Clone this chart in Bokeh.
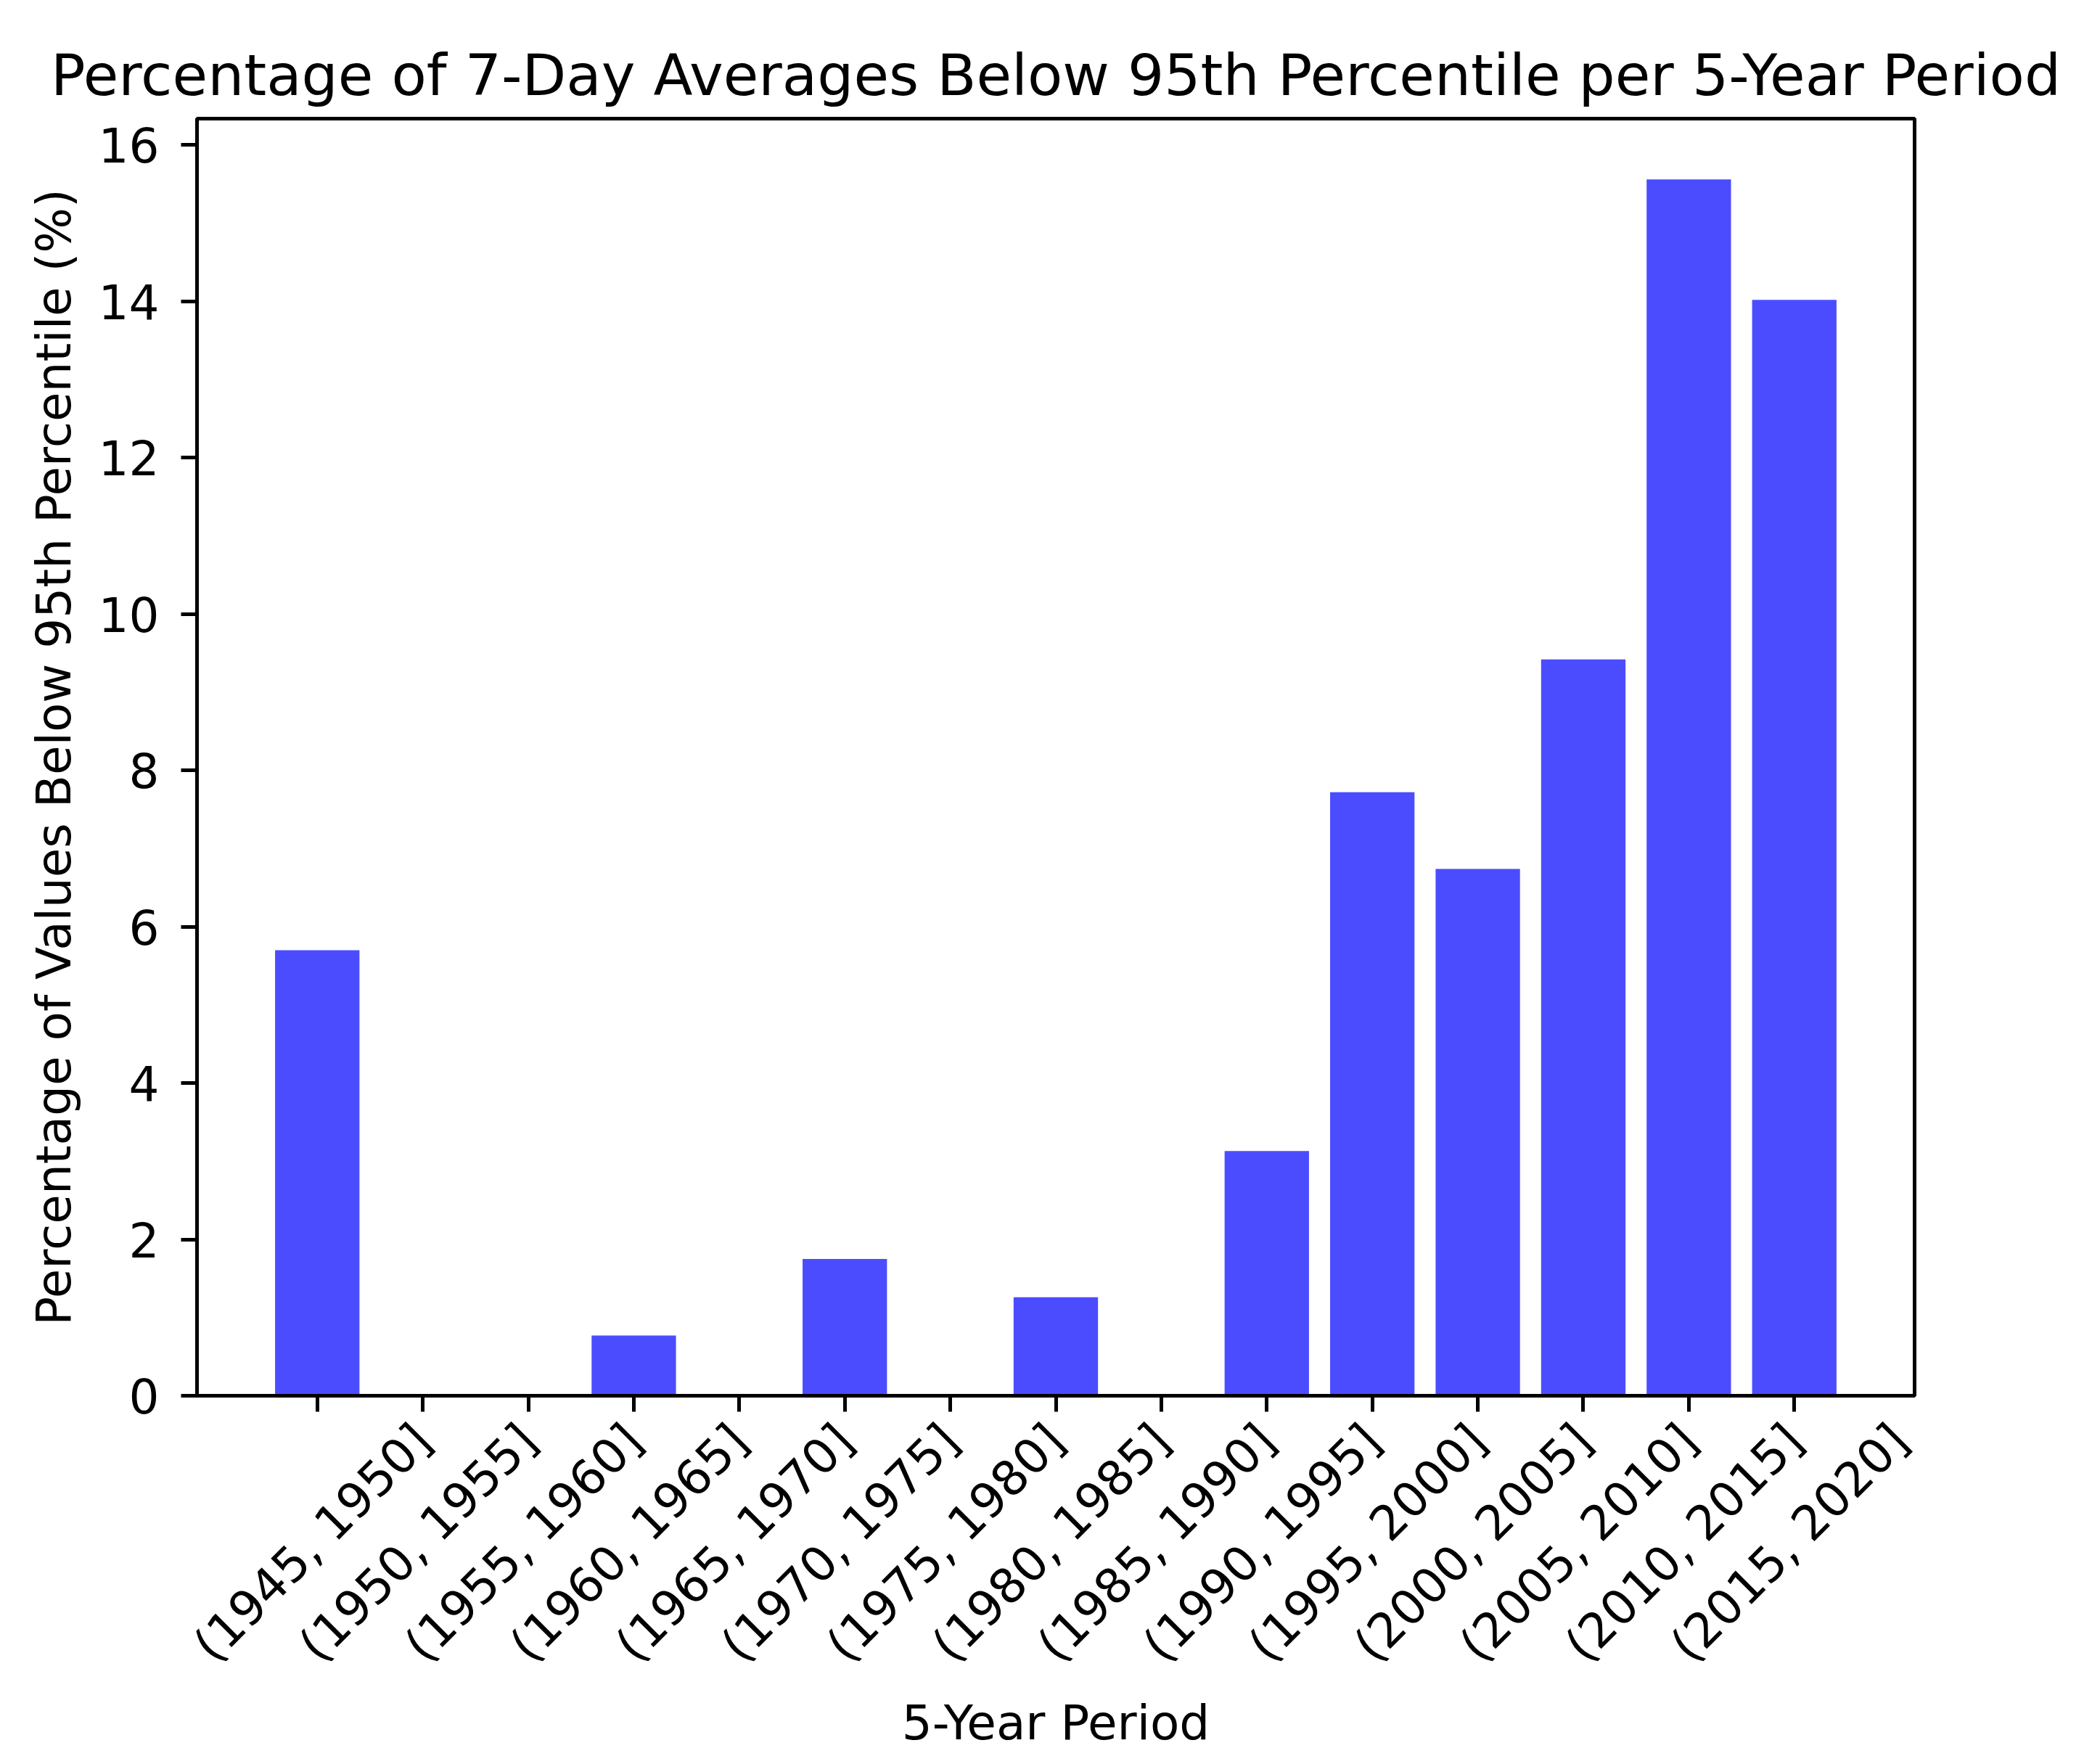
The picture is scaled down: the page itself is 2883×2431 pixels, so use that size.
from math import pi
from bokeh.plotting import figure
from bokeh.models import ColumnDataSource, FixedTicker, LinearAxis, Range1d
from bokeh.embed import file_html
from bokeh.resources import INLINE

periods = ["(1945, 1950]", "(1950, 1955]", "(1955, 1960]", "(1960, 1965]", "(1965, 1970]",
           "(1970, 1975]", "(1975, 1980]", "(1980, 1985]", "(1985, 1990]", "(1990, 1995]",
           "(1995, 2000]", "(2000, 2005]", "(2005, 2010]", "(2010, 2015]", "(2015, 2020]"]
values = [5.70, 0.0, 0.0, 0.77, 0.0, 1.75, 0.0, 1.26, 0.0, 3.13, 7.72, 6.74, 9.42, 15.56, 14.02]
y_ticks = [0, 2, 4, 6, 8, 10, 12, 14, 16]

positions = list(range(len(periods)))
FONT = "DejaVu Sans"
TICK_FS = "66px"
TITLE_FS = "79px"
LW = 5

src = ColumnDataSource(dict(x=positions, top=values))

x0, x1 = -1.14, len(periods) - 1 + 1.14
label_shift = 1.0  # rotated labels centred on their tick (matplotlib-style)

p = figure(width=2867, height=2415, output_backend="svg", toolbar_location=None,
           x_range=Range1d(x0, x1), y_range=Range1d(0, max(values) * 1.05),
           title="Percentage of 7-Day Averages Below 95th Percentile per 5-Year Period")
p.extra_x_ranges = {"lbl": Range1d(x0 - label_shift, x1 - label_shift)}

p.vbar(x="x", top="top", width=0.8, source=src, fill_color="blue", fill_alpha=0.7, line_color=None)

p.min_border_left = 271
p.min_border_right = 229
p.min_border_top = 163
p.min_border_bottom = 488

p.xgrid.visible = False
p.ygrid.visible = False
p.outline_line_color = "black"
p.outline_line_width = LW
p.outline_line_alpha = 1.0
p.background_fill_color = "white"
p.border_fill_color = "white"

p.title.text_font = FONT
p.title.text_font_size = TITLE_FS
p.title.text_font_style = "normal"
p.title.align = "center"
p.title.text_color = "black"
p.title.standoff = 27


def style_axis(ax):
    ax.axis_line_width = LW
    ax.major_tick_line_width = LW
    ax.major_tick_out = 22
    ax.major_tick_in = 0
    ax.minor_tick_out = 0
    ax.minor_tick_in = 0
    ax.major_label_text_font = FONT
    ax.major_label_text_font_size = TICK_FS
    ax.major_label_text_color = "black"
    ax.axis_label_text_font = FONT
    ax.axis_label_text_font_size = TICK_FS
    ax.axis_label_text_font_style = "normal"
    ax.axis_label_text_color = "black"


style_axis(p.yaxis[0])
p.yaxis[0].ticker = FixedTicker(ticks=y_ticks)
p.yaxis[0].major_label_standoff = 30
p.yaxis[0].axis_label = "Percentage of Values Below 95th Percentile (%)"
p.yaxis[0].axis_label_standoff = 20

# main x axis: ticks only
style_axis(p.xaxis[0])
p.xaxis[0].ticker = FixedTicker(ticks=positions)
p.xaxis[0].major_label_overrides = {i: "" for i in positions}
p.xaxis[0].major_label_text_font_size = "0px"
p.xaxis[0].major_label_standoff = 0

# label axis: rotated period labels + axis title
lab = LinearAxis(x_range_name="lbl", ticker=FixedTicker(ticks=positions),
                 major_label_overrides={i: t for i, t in zip(positions, periods)},
                 major_label_orientation=pi / 4, axis_label="5-Year Period")
style_axis(lab)
lab.axis_line_color = None
lab.major_tick_line_color = None
lab.major_tick_out = 0
lab.major_label_standoff = 29
lab.axis_label_standoff = 0
p.add_layout(lab, "below")

open("out.html", "w").write(file_html(p, INLINE))
